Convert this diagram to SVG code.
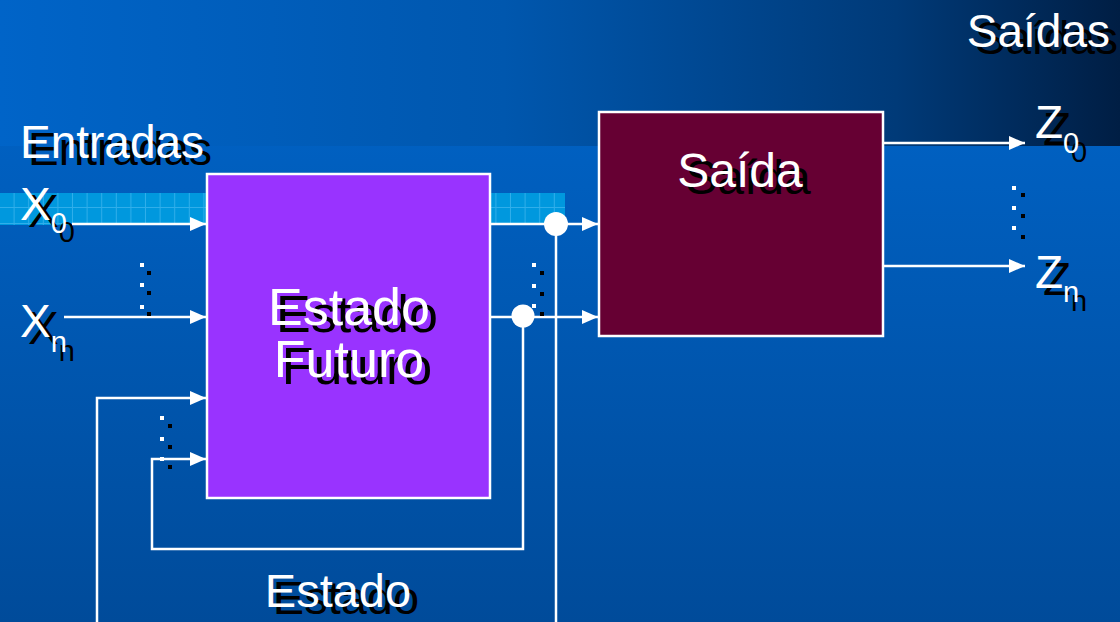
<svg xmlns="http://www.w3.org/2000/svg" width="1120" height="622" viewBox="0 0 1120 622">
<style>
text{font-family:"Liberation Sans",Arial,sans-serif}
.w{fill:#fff}
.k{fill:#000}
.ln{fill:none;stroke:#fff;stroke-width:2.5}
.box{stroke:#fff;stroke-width:2.5}
.big{font-size:46px}
.sub{font-size:29px}
</style>
<defs>
<linearGradient id="bg" x1="0" y1="0" x2="0" y2="1">
<stop offset="0" stop-color="#0066cc"/>
<stop offset="1" stop-color="#004b9a"/>
</linearGradient>
<linearGradient id="band" x1="0" y1="0" x2="1" y2="0">
<stop offset="0" stop-color="#0064c8"/>
<stop offset="0.45" stop-color="#0057ae"/>
<stop offset="0.8" stop-color="#003a78"/>
<stop offset="1" stop-color="#001e44"/>
</linearGradient>
<pattern id="grid" x="0" y="193" width="14.6" height="16" patternUnits="userSpaceOnUse">
<rect width="14.6" height="16" fill="#0098de"/>
<rect x="13.6" width="1" height="16" fill="#30aeea"/>
<rect y="14" width="14.6" height="1" fill="#30aeea"/>
</pattern>
<marker id="ah" viewBox="0 0 16 14" refX="16" refY="7" markerWidth="16" markerHeight="14" markerUnits="userSpaceOnUse" orient="auto">
<path d="M0,0 L16,7 L0,14 z" fill="#fff"/>
</marker>
</defs>

<rect width="1120" height="622" fill="url(#bg)"/>
<rect width="1120" height="146" fill="url(#band)"/>
<rect x="0" y="193" width="565" height="32" fill="url(#grid)"/>

<g id="label-entradas">
<text class="big k" x="28" y="165">Entradas</text>
<text class="big w" x="20" y="158">Entradas</text>
</g>
<g id="label-saidas">
<text class="big k" x="1118" y="54" text-anchor="end">Saídas</text>
<text class="big w" x="1110" y="47" text-anchor="end">Saídas</text>
</g>

<g id="node-x0">
<text class="big k" x="28" y="227">X<tspan class="sub" dy="15">0</tspan></text>
<text class="big w" x="20" y="220">X<tspan class="sub" dy="13">0</tspan></text>
</g>
<g id="node-xn">
<text class="big k" x="28" y="344">X<tspan class="sub" dy="17">n</tspan></text>
<text class="big w" x="20" y="337">X<tspan class="sub" dy="15">n</tspan></text>
</g>
<g id="node-z0">
<text class="big k" x="1043" y="145">Z<tspan class="sub" dy="17">0</tspan></text>
<text class="big w" x="1035" y="138">Z<tspan class="sub" dy="15">0</tspan></text>
</g>
<g id="node-zn">
<text class="big k" x="1043" y="295">Z<tspan class="sub" dy="16">n</tspan></text>
<text class="big w" x="1035" y="288">Z<tspan class="sub" dy="14">n</tspan></text>
</g>

<g id="node-estado-futuro">
<rect class="box" x="207" y="174" width="283" height="324" fill="#9933ff"/>
<text class="k" font-size="52" x="357" y="332" text-anchor="middle">Estado</text>
<text class="k" font-size="52" x="357" y="384" text-anchor="middle">Futuro</text>
<text class="w" font-size="52" x="349" y="325" text-anchor="middle">Estado</text>
<text class="w" font-size="52" x="349" y="377" text-anchor="middle">Futuro</text>
</g>

<g id="node-saida">
<rect class="box" x="599" y="112" width="284" height="224" fill="#660033"/>
<text class="k" font-size="48" x="748" y="194" text-anchor="middle">Saída</text>
<text class="w" font-size="48" x="740" y="187" text-anchor="middle">Saída</text>
</g>

<g id="label-estado">
<text class="k" font-size="47" x="346" y="614" text-anchor="middle">Estado</text>
<text class="w" font-size="47" x="338" y="607" text-anchor="middle">Estado</text>
</g>

<g id="connectors">
<path class="ln" d="M72,224 H206" marker-end="url(#ah)"/>
<path class="ln" d="M64,317 H206" marker-end="url(#ah)"/>
<path class="ln" d="M490,224 H598" marker-end="url(#ah)"/>
<path class="ln" d="M490,317 H598" marker-end="url(#ah)"/>
<path class="ln" d="M556,224 V640 H97 V398 H206" marker-end="url(#ah)"/>
<path class="ln" d="M523,317 V549 H152 V459 H206" marker-end="url(#ah)"/>
<path class="ln" d="M884,143 H1025" marker-end="url(#ah)"/>
<path class="ln" d="M884,266 H1025" marker-end="url(#ah)"/>
<circle cx="556" cy="224" r="12" fill="#fff"/>
<circle cx="523" cy="316" r="11.5" fill="#fff"/>
</g>

<g id="ellipsis-dots">
<g class="k">
<rect x="147" y="271" width="4" height="4"/><rect x="147" y="291" width="4" height="4"/><rect x="147" y="312" width="4" height="4"/>
<rect x="168" y="424" width="4" height="4"/><rect x="168" y="445" width="4" height="4"/><rect x="168" y="465" width="4" height="4"/>
<rect x="540" y="271" width="4" height="4"/><rect x="540" y="292" width="4" height="4"/><rect x="540" y="312" width="4" height="4"/>
<rect x="1021" y="193" width="4" height="4"/><rect x="1021" y="214" width="4" height="4"/><rect x="1021" y="235" width="4" height="4"/>
</g>
<g class="w">
<rect x="140" y="263" width="4" height="4"/><rect x="140" y="283" width="4" height="4"/><rect x="140" y="305" width="4" height="4"/>
<rect x="160" y="416" width="4" height="4"/><rect x="160" y="437" width="4" height="4"/><rect x="160" y="457" width="4" height="4"/>
<rect x="532" y="263" width="4" height="4"/><rect x="532" y="284" width="4" height="4"/><rect x="532" y="304" width="4" height="4"/>
<rect x="1012" y="186" width="4" height="4"/><rect x="1012" y="206" width="4" height="4"/><rect x="1012" y="226" width="4" height="4"/>
</g>
</g>
</svg>
